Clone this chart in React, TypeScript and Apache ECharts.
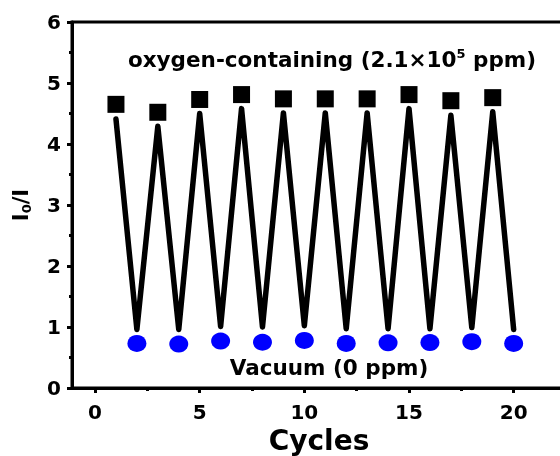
import React, { useEffect, useRef } from "react";
import * as echarts from "echarts";

// ---- data ----
const oxygenCycles = [1, 3, 5, 7, 9, 11, 13, 15, 17, 19];
const vacuumCycles = [2, 4, 6, 8, 10, 12, 14, 16, 18, 20];
const oxygenValues = [4.65, 4.52, 4.73, 4.81, 4.74, 4.74, 4.74, 4.81, 4.71, 4.76];
const vacuumValues = [0.73, 0.72, 0.77, 0.75, 0.78, 0.73, 0.74, 0.745, 0.76, 0.73];
const lineTopValues = [4.41, 4.29, 4.5, 4.58, 4.51, 4.51, 4.51, 4.58, 4.47, 4.53];
const lineBottomValues = [0.96, 0.96, 1.01, 1.0, 1.02, 0.97, 0.97, 0.97, 0.99, 0.96];
const xMajorTicks = [0, 5, 10, 15, 20];
const xMinorTicks = [2.5, 7.5, 12.5, 17.5];

const FONT = "DejaVu Sans";

export default function App() {
  const ref = useRef<HTMLDivElement>(null);

  useEffect(() => {
    if (!ref.current) return;
    const chart = echarts.init(ref.current, undefined, { renderer: "svg" });

    const lineData: number[][] = [];
    for (let i = 0; i < oxygenCycles.length; i++) {
      lineData.push([oxygenCycles[i], lineTopValues[i]]);
      lineData.push([vacuumCycles[i], lineBottomValues[i]]);
    }
    const oxygenData = oxygenCycles.map((c, i) => [c, oxygenValues[i]]);
    const vacuumData = vacuumCycles.map((c, i) => [c, vacuumValues[i]]);

    const labelStyle = {
      color: "#000",
      fontSize: 20,
      fontWeight: "bold" as const,
      fontFamily: FONT,
    };

    chart.setOption({
      animation: false,
      grid: {
        left: 72,
        top: 22,
        right: -6,
        bottom: 68,
        outerBoundsMode: "none",
        containLabel: false,
        show: true,
        borderColor: "#000",
        borderWidth: 3,
        backgroundColor: "transparent",
      },
      xAxis: [
        {
          type: "value",
          min: -1.1,
          max: 22.5,
          position: "bottom",
          axisLine: { show: true, onZero: false, lineStyle: { color: "#000", width: 3 } },
          axisTick: {
            show: true,
            customValues: xMajorTicks,
            length: 5,
            lineStyle: { color: "#000", width: 3 },
          },
          axisLabel: { customValues: xMajorTicks, margin: 14, ...labelStyle },
          splitLine: { show: false },
          name: "Cycles",
          nameLocation: "middle",
          nameGap: 36,
          nameTextStyle: { color: "#000", fontSize: 28, fontWeight: "bold", fontFamily: FONT },
        },
        {
          type: "value",
          min: -1.1,
          max: 22.5,
          position: "bottom",
          axisLine: { show: false, onZero: false },
          axisTick: {
            show: true,
            customValues: xMinorTicks,
            length: 3,
            lineStyle: { color: "#000", width: 3 },
          },
          axisLabel: { show: false },
          splitLine: { show: false },
        },
      ],
      yAxis: {
        type: "value",
        min: 0,
        max: 6,
        interval: 1,
        position: "left",
        axisLine: { show: true, onZero: false, lineStyle: { color: "#000", width: 3 } },
        axisTick: { show: true, length: 5, lineStyle: { color: "#000", width: 3 } },
        minorTick: { show: true, splitNumber: 2, length: 3, lineStyle: { color: "#000", width: 3 } },
        axisLabel: { margin: 11, ...labelStyle },
        splitLine: { show: false },
        minorSplitLine: { show: false },
        name: "{a|I}{b|0}{a|/I}",
        nameLocation: "middle",
        nameRotate: 90,
        nameGap: 39,
        nameTextStyle: {
          rich: {
            a: { fontSize: 21, fontWeight: "bold", fontFamily: FONT, color: "#000", lineHeight: 24 },
            b: {
              fontSize: 13,
              fontWeight: "bold",
              fontFamily: FONT,
              color: "#000",
              lineHeight: 10,
              verticalAlign: "bottom",
            },
          },
        },
      },
      series: [
        {
          type: "line",
          data: lineData,
          xAxisIndex: 0,
          showSymbol: false,
          symbol: "none",
          silent: true,
          z: 2,
          lineStyle: { color: "#000", width: 5.5, cap: "round", join: "round", opacity: 1 },
        },
        {
          type: "scatter",
          data: oxygenData,
          xAxisIndex: 0,
          symbol: "rect",
          symbolSize: 17,
          itemStyle: { color: "#000", opacity: 1 },
          z: 3,
        },
        {
          type: "scatter",
          data: vacuumData,
          xAxisIndex: 0,
          symbol: "circle",
          symbolSize: [19, 17],
          itemStyle: { color: "#0000ff", opacity: 1 },
          z: 3,
        },
      ],
      graphic: [
        {
          type: "text",
          x: 332,
          y: 59,
          style: {
            text: "{t|oxygen-containing (2.1×10}{s|5}{t| ppm)}",
            align: "center",
            verticalAlign: "middle",
            rich: {
              t: {
                fontSize: 21.5,
                fontWeight: "bold",
                fontFamily: FONT,
                fill: "#000",
                lineHeight: 24,
              },
              s: {
                fontSize: 13,
                fontWeight: "bold",
                fontFamily: FONT,
                fill: "#000",
                lineHeight: 13,
                verticalAlign: "top",
              },
            },
          },
        },
        {
          type: "text",
          x: 329,
          y: 367.5,
          style: {
            text: "Vacuum (0 ppm)",
            align: "center",
            verticalAlign: "middle",
            fontSize: 21.5,
            fontWeight: "bold",
            fontFamily: FONT,
            fill: "#000",
          },
        },
      ],
    });

    return () => chart.dispose();
  }, []);

  return (
    <div
      ref={ref}
      style={{ position: "fixed", left: 0, top: 0, width: 560, height: 456 }}
    />
  );
}
